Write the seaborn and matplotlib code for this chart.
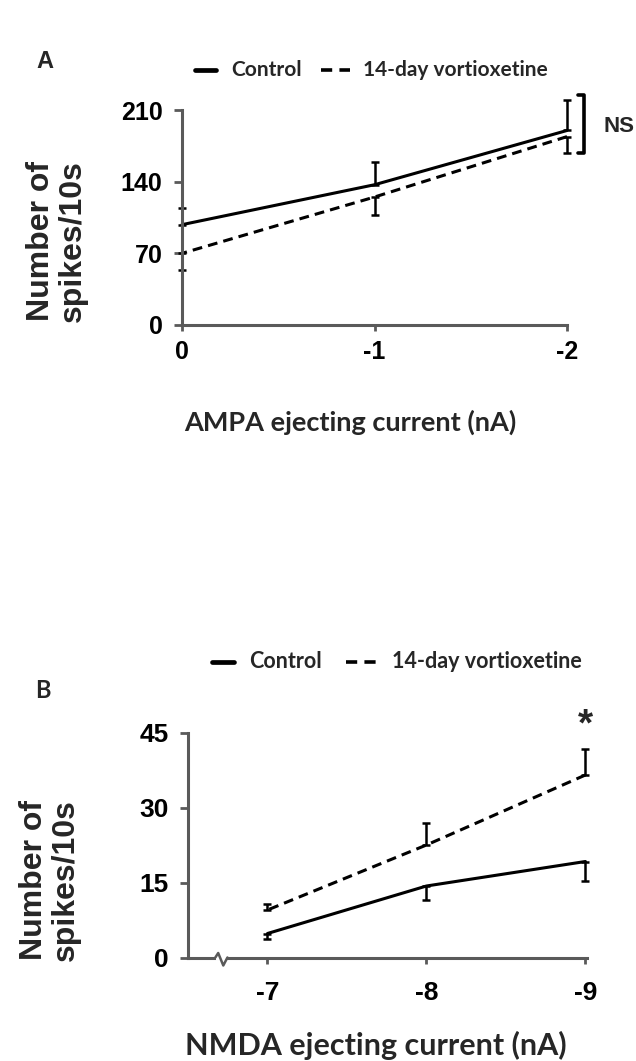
import matplotlib.pyplot as plt
import matplotlib.lines as mlines
import numpy as np
import pandas as pd
import seaborn as sns

# values
groups = ["Control", "14-day vortioxetine"]

ampa_current = [0, -1, -2]
ampa_ticks = ["0", "-1", "-2"]
ampa_control = [98, 137, 190]
ampa_control_sem = [16, 22, 30]
ampa_vortioxetine = [70, 125, 184]
ampa_vortioxetine_sem = [16, 18, 16]
ampa_yticks = [0, 70, 140, 210]

nmda_current = [-7, -8, -9]
nmda_ticks = ["-7", "-8", "-9"]
nmda_control = [4.8, 14.3, 19.2]
nmda_control_sem = [1.0, 2.7, 3.8]
nmda_vortioxetine = [9.5, 22.5, 36.5]
nmda_vortioxetine_sem = [1.3, 4.5, 5.3]
nmda_yticks = [0, 15, 30, 45]

W, H = 636, 1061
SPINE = "#5a5a5a"
TICK_FONT = ["Liberation Sans", "DejaVu Sans"]
LABEL_FONT = ["Lato", "DejaVu Sans"]

sns.set_theme(style="white")
plt.rcParams["font.family"] = TICK_FONT

fig = plt.figure(figsize=(W / 100, H / 100), dpi=100)


def fx(px):
    return px / W


def fy(py):
    return 1 - py / H


def draw_panel(ax, x, ctrl, ctrl_err, vort, vort_err, ctrl_up, xlim, yticks,
               xticklabels, fsize, xpad):
    df = pd.DataFrame({
        "current": list(x) * 2,
        "spikes": list(ctrl) + list(vort),
        "group": [groups[0]] * len(x) + [groups[1]] * len(x),
    })
    sns.lineplot(data=df, x="current", y="spikes", style="group",
                 style_order=groups,
                 dashes={groups[0]: "", groups[1]: (3.2, 2.0)},
                 color="black", lw=2.2, ax=ax, legend=False)

    for vals, errs, up in ((ctrl, ctrl_err, ctrl_up),
                           (vort, vort_err, not ctrl_up)):
        zeros = np.zeros(len(errs))
        yerr = [zeros, errs] if up else [errs, zeros]
        cont = ax.errorbar(x, vals, yerr=yerr, fmt="none", ecolor="black",
                           elinewidth=1.8, capsize=3, capthick=1.8)
        for art in list(cont.lines[1]) + list(cont.lines[2]):
            art.set_clip_on(False)
    for line in ax.lines:
        line.set_clip_on(False)

    ax.set_xlim(xlim)
    ax.set_ylim(yticks[0], yticks[-1])
    ax.set_xticks(x)
    ax.set_xticklabels(xticklabels)
    ax.set_yticks(yticks)
    ax.set_yticklabels([str(t) for t in yticks])
    ax.set_xlabel("")
    ax.set_ylabel("")
    sns.despine(ax=ax)
    for side in ("left", "bottom"):
        ax.spines[side].set_color(SPINE)
        ax.spines[side].set_linewidth(2.2)
    ax.tick_params(axis="y", left=True, direction="out", length=6, width=2,
                   color=SPINE, labelsize=fsize, pad=8, labelcolor="black")
    ax.tick_params(axis="x", bottom=True, direction="out", length=4, width=2,
                   color=SPINE, labelsize=fsize, pad=xpad, labelcolor="black")
    for lab in ax.get_xticklabels() + ax.get_yticklabels():
        lab.set_fontweight("bold")


def draw_legend(y, solid, ctrl_x, dashed, vort_x, size):
    fig.add_artist(mlines.Line2D([fx(solid[0]), fx(solid[1])], [fy(y), fy(y)],
                                 color="black", lw=3.4,
                                 transform=fig.transFigure))
    fig.add_artist(mlines.Line2D([fx(dashed[0]), fx(dashed[1])], [fy(y), fy(y)],
                                 color="black", lw=2.6, dashes=(3.1, 2.0),
                                 transform=fig.transFigure))
    fig.text(fx(ctrl_x), fy(y), groups[0], family=LABEL_FONT,
             fontweight="bold", fontsize=size, va="center", ha="left")
    fig.text(fx(vort_x), fy(y), groups[1], family=LABEL_FONT,
             fontweight="bold", fontsize=size, va="center", ha="left")


# panel A: AMPA
ax_a = fig.add_axes([fx(182), fy(325), fx(567) - fx(182), fy(110) - fy(325)])
draw_panel(ax_a, ampa_current, ampa_control, ampa_control_sem,
           ampa_vortioxetine, ampa_vortioxetine_sem, True, (0, -2),
           ampa_yticks, ampa_ticks, 18, 7)

ax_a.plot([-2.057, -2.088, -2.088, -2.057], [225, 225, 168, 168],
          color="black", lw=2.6, clip_on=False)
ax_a.text(-2.27, 194, "NS", ha="center", va="center", fontsize=16,
          fontweight="bold", clip_on=False)

draw_legend(70, (195, 216), 231, (321, 350), 363, 15)
fig.text(fx(45), fy(62), "A", fontsize=17, fontweight="bold",
         ha="center", va="center")
fig.text(fx(57), fy(241), "Number of\nspikes/10s", rotation=90, fontsize=23,
         fontweight="bold", ha="center", va="center", linespacing=1.1)
fig.text(fx(350), fy(422), "AMPA ejecting current (nA)", family=LABEL_FONT,
         fontweight="bold", fontsize=19.5, ha="center", va="center")

# panel B: NMDA
ax_b = fig.add_axes([fx(188), fy(957.5), fx(587) - fx(188),
                     fy(732.5) - fy(957.5)])
draw_panel(ax_b, nmda_current, nmda_control, nmda_control_sem,
           nmda_vortioxetine, nmda_vortioxetine_sem, False, (-6.5, -9.01),
           nmda_yticks, nmda_ticks, 19, 13)

# axis break mark
ax_b.plot([-6.675, -6.745], [0, 0], color="white", lw=4, clip_on=False,
          solid_capstyle="butt", zorder=5)
ax_b.plot([-6.672, -6.69, -6.722, -6.748], [0, 0.9, -1.6, 0],
          color=SPINE, lw=1.8, clip_on=False, zorder=6)
ax_b.text(-9, 46.5, "*", ha="center", va="center", fontsize=28,
          fontweight="bold", clip_on=False)

draw_legend(662, (212, 234), 249, (346, 376), 392, 15.5)
fig.text(fx(43), fy(690), "B", family=LABEL_FONT, fontsize=17,
         fontweight="bold", ha="center", va="center")
fig.text(fx(50), fy(880), "Number of\nspikes/10s", rotation=90, fontsize=23,
         fontweight="bold", ha="center", va="center", linespacing=1.1)
fig.text(fx(376), fy(1045), "NMDA ejecting current (nA)", family=LABEL_FONT,
         fontweight="bold", fontsize=22, ha="center", va="center")

fig.savefig("out.png", dpi=100)
